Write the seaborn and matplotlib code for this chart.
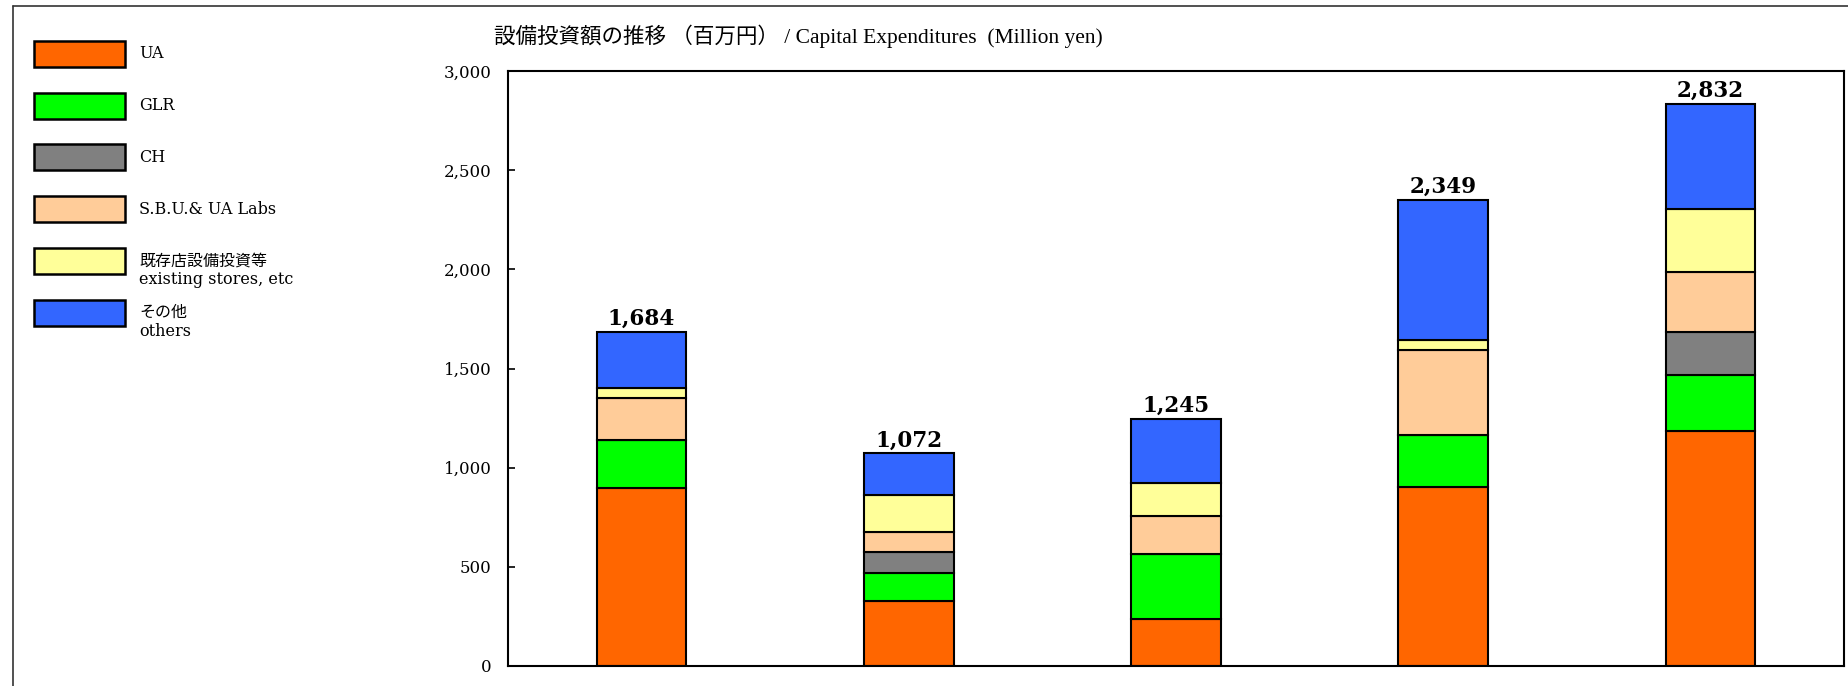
import numpy as np
import matplotlib.pyplot as plt
import seaborn as sns
from matplotlib.patches import Rectangle
from matplotlib.lines import Line2D
from matplotlib.ticker import FuncFormatter

# data (million yen)
periods = ['P1', 'P2', 'P3', 'P4', 'P5']
ua = [895, 330, 238, 901, 1184]
glr = [247, 140, 326, 266, 284]
ch = [0, 105, 0, 0, 218]
sbu = [210, 100, 190, 424, 299]
existing = [50, 185, 167, 55, 321]
others = [282, 212, 324, 703, 526]

series_names = ['UA', 'GLR', 'CH', 'S.B.U.& UA Labs',
                '既存店設備投資等\nexisting stores, etc', 'その他\nothers']
series_vals = [ua, glr, ch, sbu, existing, others]
colors = ['#FF6600', '#00FF00', '#808080', '#FFCC99', '#FFFF99', '#3366FF']

sns.set_theme(style='white')
fam = ['DejaVu Serif', 'Noto Sans CJK JP']
title_fam = ['Liberation Serif', 'Noto Sans CJK JP', 'DejaVu Sans']
plt.rcParams['font.family'] = fam
plt.rcParams['text.color'] = 'black'

W, H = 1848, 686
fig = plt.figure(figsize=(W / 100, H / 100), dpi=100)
ax = fig.add_axes([508 / W, 1 - 666 / H, (1844 - 508) / W, (666 - 71) / H])

# 1. stacked bars
bottom = np.zeros(len(periods))
for vals, c in zip(series_vals, colors):
    sns.barplot(x=periods, y=vals, bottom=bottom, color=c, edgecolor='black',
                linewidth=1.5, width=0.335, saturation=1, ax=ax)
    bottom = bottom + np.array(vals)

totals = bottom
ax.bar_label(ax.containers[-1], labels=[f'{t:,.0f}' for t in totals],
             padding=1.5, fontsize=15.5, fontweight='bold', family=fam,
             color='black')

# 2. axes styling
ax.set_ylim(0, 3000)
ax.set_xlim(-0.5, len(periods) - 0.5)
ax.set_yticks(range(0, 3001, 500))
ax.yaxis.set_major_formatter(FuncFormatter(lambda v, p: f'{v:,.0f}'))
ax.tick_params(axis='y', direction='in', length=5, width=1.2, left=True,
               labelsize=12, pad=12, colors='black')
ax.tick_params(axis='x', bottom=False, labelbottom=False)
ax.set_xlabel('')
ax.set_ylabel('')
for s in ax.spines.values():
    s.set_color('black')
    s.set_linewidth(1.5)

fig.text(798 / W, 1 - 36 / H,
         '設備投資額の推移 （百万円） / Capital Expenditures  (Million yen)',
         ha='center', va='center', fontsize=15.5, family=title_fam)

# 3. legend drawn by hand on the left
for i, (name, c) in enumerate(zip(series_names, colors)):
    yc = 54 + i * 51.7
    fig.add_artist(Rectangle((34 / W, 1 - (yc + 13) / H), 91 / W, 26 / H,
                             transform=fig.transFigure, facecolor=c,
                             edgecolor='black', linewidth=1.8))
    for j, line in enumerate(name.split('\n')):
        fig.text(139 / W, 1 - (yc + j * 19) / H, line, ha='left', va='center',
                 fontsize=11.5, family=fam)

# frame lines on top and left of the picture
fig.add_artist(Line2D([13 / W, 1], [1 - 6 / H, 1 - 6 / H], color='#333333',
                      linewidth=1.2, transform=fig.transFigure))
fig.add_artist(Line2D([13 / W, 13 / W], [0, 1 - 6 / H], color='#333333',
                      linewidth=1.2, transform=fig.transFigure))

fig.savefig('out.png', dpi=100, facecolor='white')
